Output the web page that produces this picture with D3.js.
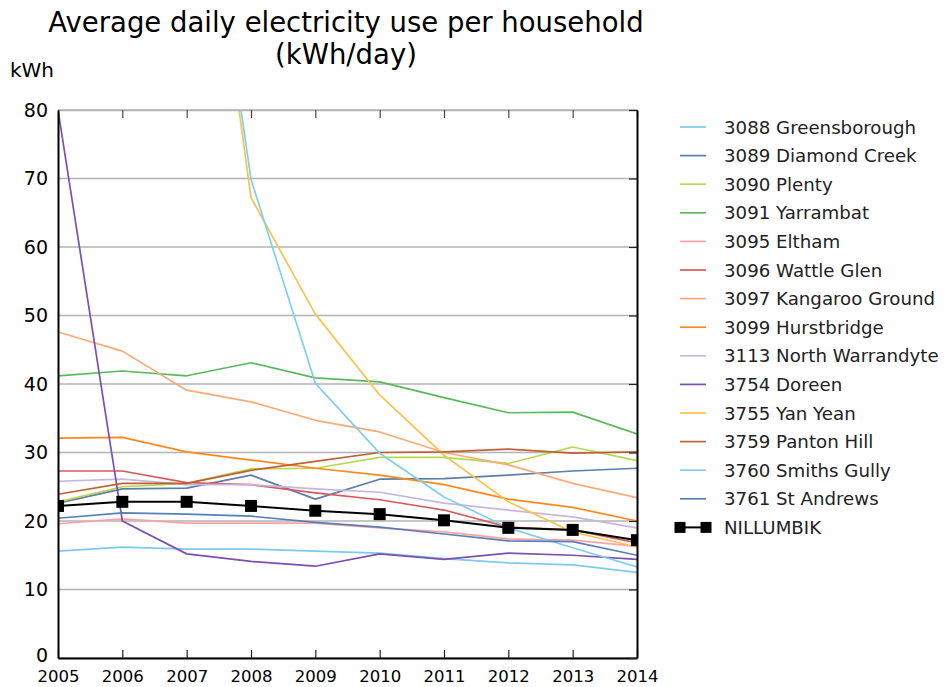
<!DOCTYPE html>
<html>
<head>
<meta charset="utf-8">
<script src="https://cdn.jsdelivr.net/npm/d3@7"></script>
<style>
  html, body { margin: 0; padding: 0; background: #fff; }
  svg { display: block; font-family: "DejaVu Sans", sans-serif; }
</style>
</head>
<body>
<svg id="chart" width="946" height="687"></svg>
<script>
// Years on the x axis
const years = [2005, 2006, 2007, 2008, 2009, 2010, 2011, 2012, 2013, 2014];

// Average daily electricity use per household, kWh/day, by postcode
const greensborough   = [15.6, 16.2, 15.9, 15.9, 15.6, 15.3, 14.5, 13.9, 13.6, 12.5];
const diamondCreek    = [22.6, 24.7, 24.8, 26.7, 23.2, 26.1, 26.2, 26.7, 27.3, 27.7];
const plenty          = [22.8, 25.0, 25.5, 27.6, 27.7, 29.3, 29.3, 28.4, 30.8, 28.8];
const yarrambat       = [41.2, 41.9, 41.2, 43.1, 40.9, 40.3, 38.0, 35.8, 35.9, 32.7];
const eltham          = [19.6, 20.3, 19.7, 19.7, 19.7, 19.0, 18.4, 17.4, 17.2, 16.3];
const wattleGlen      = [27.3, 27.3, 25.6, 25.3, 24.1, 23.1, 21.6, 19.1, 18.7, 16.8];
const kangarooGround  = [47.6, 44.8, 39.1, 37.4, 34.7, 33.0, 30.0, 28.2, 25.5, 23.4];
const hurstbridge     = [32.1, 32.2, 30.1, 28.9, 27.7, 26.7, 25.3, 23.2, 22.0, 20.0];
const northWarrandyte = [25.8, 26.1, 25.3, 25.3, 24.7, 24.2, 22.6, 21.6, 20.6, 19.0];
const doreen          = [80.0, 20.0, 15.2, 14.1, 13.4, 15.2, 14.4, 15.3, 15.0, 14.4];
const yanYean         = [null, null, 136.0, 67.2, 50.2, 38.4, 29.6, 22.8, 18.4, 16.2];
const pantonHill      = [23.9, 25.5, 25.5, 27.4, 28.7, 30.0, 30.1, 30.5, 29.9, 30.1];
const smithsGully     = [null, null, 135.0, 69.9, 40.1, 29.9, 23.5, 19.0, 16.1, 13.3];
const stAndrews       = [20.4, 21.2, 21.0, 20.7, 19.8, 19.1, 18.1, 17.1, 17.0, 15.0];
const nillumbik       = [22.2, 22.8, 22.8, 22.2, 21.5, 21.0, 20.1, 19.0, 18.7, 17.2];

const seriesNames = [
  "3088 Greensborough", "3089 Diamond Creek", "3090 Plenty", "3091 Yarrambat",
  "3095 Eltham", "3096 Wattle Glen", "3097 Kangaroo Ground", "3099 Hurstbridge",
  "3113 North Warrandyte", "3754 Doreen", "3755 Yan Yean", "3759 Panton Hill",
  "3760 Smiths Gully", "3761 St Andrews", "NILLUMBIK"
];
const seriesValues = [
  greensborough, diamondCreek, plenty, yarrambat, eltham, wattleGlen,
  kangarooGround, hurstbridge, northWarrandyte, doreen, yanYean, pantonHill,
  smithsGully, stAndrews, nillumbik
];
const seriesColors = [
  "#7ccbee", "#5d7ea8", "#b7d84e", "#5cb85c", "#ffa3a6", "#d75a5e",
  "#fcab77", "#ff8a1c", "#c9b5df", "#7c4fb0", "#fbc24c", "#bf6138",
  "#80cff0", "#5a7fb8", "#000000"
];

const yTicks = [0, 10, 20, 30, 40, 50, 60, 70, 80];

const svg = d3.select("#chart");
const plotLeft = 58, plotRight = 637, plotTop = 110, plotBottom = 658;

const x = d3.scaleLinear().domain([2005, 2014]).range([plotLeft, plotRight]);
const y = d3.scaleLinear().domain([0, 80]).range([plotBottom, plotTop]);

svg.append("defs").append("clipPath").attr("id", "plotClip")
  .append("rect").attr("x", plotLeft).attr("y", plotTop)
  .attr("width", plotRight - plotLeft).attr("height", plotBottom - plotTop);

// Horizontal grid lines
svg.append("g").selectAll("line").data(yTicks).join("line")
  .attr("x1", plotLeft).attr("x2", plotRight)
  .attr("y1", d => y(d)).attr("y2", d => y(d))
  .attr("stroke", "#b3b3b3").attr("stroke-width", 1.5);

// Series lines
const line = d3.line()
  .defined(d => d[1] !== null)
  .x(d => x(d[0])).y(d => y(d[1]));

const plot = svg.append("g").attr("clip-path", "url(#plotClip)");
seriesValues.forEach((vals, i) => {
  const pts = years.map((yr, j) => [yr, vals[j]]);
  const isTotal = i === seriesValues.length - 1;
  plot.append("path").datum(pts)
    .attr("fill", "none")
    .attr("stroke", seriesColors[i])
    .attr("stroke-width", isTotal ? 2 : 1.7)
    .attr("stroke-linejoin", "round")
    .attr("d", line);
  if (isTotal) {
    plot.append("g").selectAll("rect").data(pts).join("rect")
      .attr("x", d => x(d[0]) - 6).attr("y", d => y(d[1]) - 6)
      .attr("width", 12).attr("height", 12).attr("fill", "#000");
  }
});

// Axes: bottom and left carry labels, top and right only inward ticks
const xAxis = d3.axisBottom(x).tickValues(years).tickFormat(d3.format("d"))
  .tickSizeInner(-8).tickSizeOuter(0).tickPadding(12);
const gx = svg.append("g").attr("transform", `translate(0,${plotBottom})`).call(xAxis);
gx.select(".domain").attr("stroke", "#000").attr("stroke-width", 2);
gx.selectAll(".tick line").attr("stroke", "#222").attr("stroke-width", 1.2);
gx.selectAll("text").attr("font-size", 16.5).attr("fill", "#000")
  .attr("font-family", "DejaVu Sans");

const gxTop = svg.append("g").attr("transform", `translate(0,${plotTop})`)
  .call(d3.axisTop(x).tickValues(years).tickFormat("").tickSizeInner(-8).tickSizeOuter(0));
gxTop.select(".domain").attr("stroke", "#b3b3b3").attr("stroke-width", 1.5);
gxTop.selectAll(".tick line").attr("stroke", "#444").attr("stroke-width", 1.2);

const yAxis = d3.axisLeft(y).tickValues(yTicks).tickFormat(d3.format("d"))
  .tickSizeInner(0).tickSizeOuter(0).tickPadding(10);
const gy = svg.append("g").attr("transform", `translate(${plotLeft},0)`).call(yAxis);
gy.select(".domain").attr("stroke", "#000").attr("stroke-width", 2);
gy.selectAll("text").attr("font-size", 19).attr("fill", "#000")
  .attr("font-family", "DejaVu Sans");
gy.selectAll(".tick").filter(d => d === 0).select("text").attr("dy", "0.2em");

const gyRight = svg.append("g").attr("transform", `translate(${plotRight},0)`)
  .call(d3.axisRight(y).tickValues(yTicks).tickFormat("").tickSizeInner(-8).tickSizeOuter(0));
gyRight.select(".domain").attr("stroke", "#000").attr("stroke-width", 2);
gyRight.selectAll(".tick line").attr("stroke", "#222").attr("stroke-width", 1.2);

// Title and unit label
svg.append("text").attr("x", 346).attr("y", 32).attr("text-anchor", "middle")
  .attr("font-size", 27.5).attr("fill", "#000")
  .text("Average daily electricity use per household");
svg.append("text").attr("x", 346).attr("y", 64).attr("text-anchor", "middle")
  .attr("font-size", 27.5).attr("fill", "#000").text("(kWh/day)");
svg.append("text").attr("x", 10).attr("y", 77)
  .attr("font-size", 20).attr("fill", "#000").text("kWh");

// Legend
const legend = svg.append("g");
const rowY = i => 127 + i * 28.6;
seriesNames.forEach((name, i) => {
  const g = legend.append("g").attr("transform", `translate(0,${rowY(i)})`);
  const isTotal = i === seriesNames.length - 1;
  g.append("line").attr("x1", 680).attr("x2", 706).attr("y1", 0).attr("y2", 0)
    .attr("stroke", seriesColors[i]).attr("stroke-width", isTotal ? 2 : 1.7);
  if (isTotal) {
    [680, 706].forEach(cx => g.append("rect")
      .attr("x", cx - 5.5).attr("y", -5.5).attr("width", 11).attr("height", 11)
      .attr("fill", "#000"));
  }
  g.append("text").attr("x", 724).attr("y", 6.5).attr("font-size", 18.2)
    .attr("fill", "#222").text(name);
});
</script>
</body>
</html>
